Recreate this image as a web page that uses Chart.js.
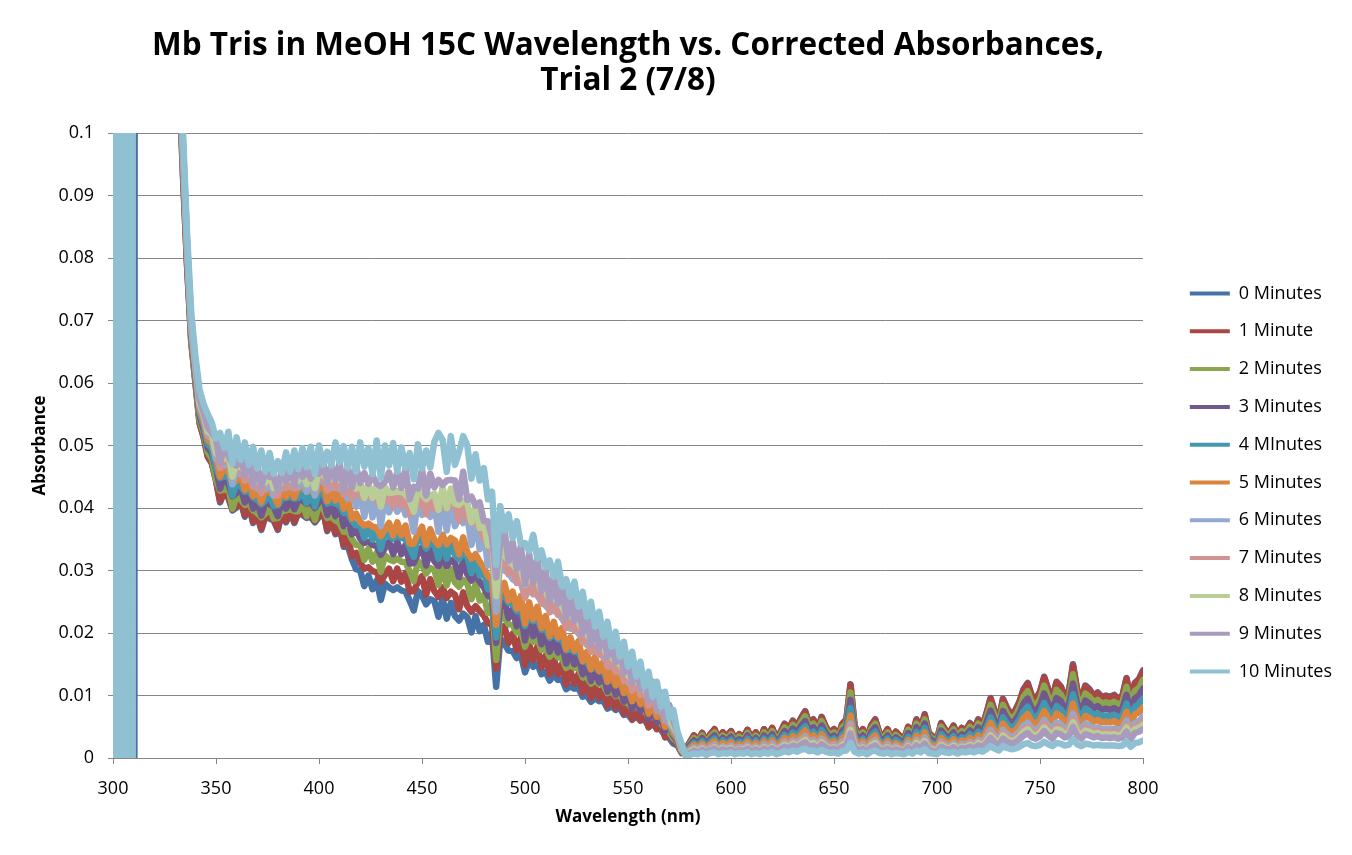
<!DOCTYPE html>
<html>
<head>
<meta charset="utf-8">
<title>Mb Tris in MeOH 15C - Trial 2</title>
<script src="https://cdn.jsdelivr.net/npm/chart.js@4.4.1/dist/chart.umd.min.js"></script>
<style>
  html, body { margin: 0; padding: 0; background: #fff; }
  #wrap { width: 1352px; height: 855px; }
</style>
</head>
<body>
<div id="wrap"><canvas id="chart" width="1352" height="855"></canvas></div>
<script>
// wavelength (nm)
const wavelengths = [
  300,301,302,303,304,305,306,307,308,309,310,311,312,316,320,324,328,332,
  334,336,338,340,342,344,346,348,350,352,354,356,358,360,362,364,366,368,370,372,
  374,376,378,380,382,384,386,388,390,392,394,396,398,400,402,404,406,408,410,412,
  414,416,418,420,422,424,426,428,430,432,434,436,438,440,442,444,446,448,450,452,
  454,456,458,460,462,464,466,468,470,472,474,476,478,480,482,484,486,488,490,492,
  494,496,498,500,502,504,506,508,510,512,514,516,518,520,522,524,526,528,530,532,
  534,536,538,540,542,544,546,548,550,552,554,556,558,560,562,564,566,568,570,572,
  574,576,578,580,582,584,586,588,590,592,594,596,598,600,602,604,606,608,610,612,
  614,616,618,620,622,624,626,628,630,632,634,636,638,640,642,644,646,648,650,652,
  654,656,658,660,662,664,666,668,670,672,674,676,678,680,682,684,686,688,690,692,
  694,696,698,700,702,704,706,708,710,712,714,716,718,720,722,724,726,728,730,732,
  734,736,738,740,742,744,746,748,750,752,754,756,758,760,762,764,766,768,770,772,
  774,776,778,780,782,784,786,788,790,792,794,796,798,800
];

// corrected absorbance per series
const min0 = [
  .5,-.3,.5,-.3,.5,-.3,.5,-.3,.5,-.3,-.3,.5,.45,.35,.25,.18,.14,.11,
  .0930,.0785,.0665,.0601,.0536,.0513,.0482,.0471,.0443,.0409,.0426,.0416,.0396,.0401,.0411,.0386,.0404,.0376,.0388,.0365,
  .0387,.0383,.0380,.0365,.0392,.0377,.0395,.0376,.0392,.0389,.0384,.0386,.0377,.0386,.0396,.0363,.0380,.0358,.0369,.0338,
  .0339,.0318,.0302,.0300,.0275,.0292,.0270,.0284,.0253,.0279,.0273,.0269,.0273,.0268,.0266,.0252,.0236,.0267,.0260,.0246,
  .0254,.0251,.0226,.0256,.0223,.0248,.0227,.0220,.0231,.0225,.0201,.0227,.0203,.0213,.0186,.0200,.0114,.0191,.0183,.0172,
  .0171,.0160,.0165,.0137,.0156,.0146,.0151,.0134,.0138,.0124,.0133,.0125,.0126,.0110,.0115,.0111,.0112,.0098,.0100,.0090,
  .0096,.0091,.0092,.0079,.0083,.0077,.0081,.0069,.0070,.0061,.0067,.0060,.0062,.0050,.0054,.0048,.0045,.0036,.0032,.0023,
  .0020,.0008,
  .0014,.0025,.0036,.0028,.0040,.0027,.0038,.0046,.0030,.0041,.0034,.0043,.0030,.0038,.0033,.0045,.0030,.0041,.0028,.0046,
  .0035,.0048,.0032,.0041,.0055,.0045,.0060,.0050,.0064,.0075,.0055,.0062,.0045,.0066,.0050,.0040,.0046,.0035,.0055,.0062,
  .0118,.0052,.0036,.0046,.0030,.0052,.0062,.0040,.0035,.0046,.0030,.0042,.0035,.0030,.0050,.0035,.0062,.0045,.0070,.0040,
  .0034,.0030,.0056,.0045,.0040,.0052,.0036,.0048,.0044,.0056,.0045,.0062,.0050,.0072,.0096,.0075,.0060,.0095,.0080,.0070,
  .0076,.0090,.0110,.0120,.0100,.0095,.0106,.0130,.0110,.0095,.0122,.0115,.0100,.0106,.0150,.0110,.0095,.0116,.0110,.0100,
  .0105,.0098,.0100,.0098,.0101,.0095,.0100,.0128,.0090,.0120,.0126,.0140
];
const min1 = [
  .5,-.3,.5,-.3,.5,-.3,.5,-.3,.5,-.3,.5,.5,.45,.35,.25,.18,.14,.11,
  .0931,.0786,.0666,.0602,.0537,.0514,.0483,.0472,.0445,.0411,.0428,.0418,.0398,.0403,.0413,.0388,.0406,.0378,.0390,.0367,
  .0389,.0385,.0382,.0367,.0394,.0379,.0397,.0378,.0394,.0391,.0386,.0388,.0379,.0388,.0398,.0365,.0382,.0360,.0372,.0341,
  .0354,.0323,.0328,.0312,.0303,.0305,.0299,.0297,.0282,.0293,.0303,.0283,.0303,.0282,.0296,.0266,.0267,.0282,.0291,.0261,
  .0286,.0267,.0258,.0273,.0256,.0266,.0261,.0238,.0265,.0243,.0234,.0243,.0235,.0228,.0216,.0213,.0143,.0203,.0211,.0184,
  .0199,.0172,.0193,.0149,.0183,.0157,.0178,.0145,.0164,.0134,.0159,.0134,.0151,.0118,.0139,.0119,.0135,.0105,.0122,.0096,
  .0117,.0096,.0112,.0083,.0102,.0080,.0099,.0071,.0087,.0062,.0083,.0060,.0077,.0049,.0068,.0046,.0058,.0033,.0045,.0027,
  .0023,.0009,
  .0014,.0025,.0036,.0028,.0040,.0027,.0038,.0046,.0030,.0041,.0034,.0043,.0030,.0038,.0033,.0045,.0030,.0041,.0028,.0046,
  .0035,.0048,.0032,.0041,.0054,.0045,.0059,.0050,.0063,.0074,.0054,.0061,.0045,.0065,.0050,.0040,.0046,.0035,.0054,.0061,
  .0117,.0051,.0036,.0046,.0030,.0051,.0061,.0040,.0035,.0046,.0030,.0042,.0035,.0030,.0050,.0035,.0061,.0045,.0069,.0040,
  .0034,.0030,.0055,.0045,.0040,.0051,.0036,.0048,.0044,.0055,.0045,.0061,.0050,.0071,.0095,.0074,.0059,.0094,.0079,.0069,
  .0075,.0089,.0109,.0119,.0099,.0094,.0105,.0129,.0109,.0094,.0121,.0114,.0099,.0105,.0148,.0109,.0094,.0115,.0109,.0099,
  .0104,.0097,.0099,.0097,.0100,.0094,.0099,.0127,.0089,.0119,.0125,.0139
];
const min2 = [
  .5,-.3,.5,-.3,.5,-.3,.5,-.3,.5,-.3,.5,.5,.45,.35,.25,.18,.14,.11,
  .0938,.0791,.0670,.0606,.0542,.0520,.0489,.0479,.0445,.0428,.0429,.0435,.0399,.0420,.0414,.0405,.0407,.0396,.0392,.0385,
  .0391,.0402,.0383,.0384,.0395,.0396,.0398,.0395,.0395,.0408,.0387,.0406,.0381,.0406,.0400,.0384,.0386,.0380,.0376,.0362,
  .0363,.0350,.0341,.0341,.0317,.0335,.0314,.0328,.0298,.0324,.0318,.0315,.0319,.0314,.0313,.0299,.0283,.0315,.0309,.0295,
  .0304,.0301,.0277,.0308,.0276,.0302,.0281,.0274,.0285,.0279,.0254,.0278,.0252,.0261,.0232,.0245,.0157,.0234,.0225,.0214,
  .0213,.0201,.0206,.0178,.0197,.0186,.0191,.0173,.0176,.0162,.0170,.0161,.0161,.0144,.0149,.0144,.0144,.0129,.0130,.0119,
  .0124,.0118,.0118,.0104,.0107,.0099,.0102,.0089,.0089,.0079,.0084,.0076,.0077,.0064,.0067,.0060,.0056,.0047,.0042,.0031,
  .0026,.0010,
  .0012,.0022,.0032,.0025,.0036,.0024,.0034,.0041,.0027,.0036,.0030,.0038,.0027,.0034,.0029,.0040,.0027,.0036,.0025,.0041,
  .0031,.0043,.0028,.0036,.0049,.0040,.0053,.0045,.0057,.0067,.0049,.0055,.0040,.0059,.0045,.0036,.0041,.0031,.0049,.0055,
  .0105,.0046,.0032,.0041,.0027,.0046,.0055,.0036,.0031,.0041,.0027,.0037,.0031,.0027,.0045,.0031,.0055,.0040,.0062,.0036,
  .0030,.0027,.0050,.0040,.0036,.0046,.0032,.0043,.0039,.0050,.0040,.0055,.0045,.0064,.0085,.0067,.0053,.0085,.0071,.0062,
  .0068,.0080,.0098,.0107,.0089,.0085,.0094,.0116,.0098,.0085,.0109,.0102,.0089,.0094,.0134,.0098,.0085,.0103,.0098,.0089,
  .0093,.0087,.0089,.0087,.0090,.0085,.0089,.0114,.0080,.0107,.0112,.0125
];
const min3 = [
  .5,-.3,.5,-.3,.5,-.3,.5,-.3,.5,-.3,.5,.5,.45,.35,.25,.18,.14,.11,
  .0947,.0797,.0675,.0612,.0548,.0526,.0496,.0488,.0463,.0431,.0449,.0439,.0419,.0424,.0434,.0409,.0427,.0399,.0411,.0388,
  .0410,.0406,.0402,.0387,.0414,.0399,.0417,.0398,.0414,.0412,.0407,.0409,.0400,.0410,.0420,.0389,.0407,.0387,.0400,.0371,
  .0387,.0358,.0365,.0351,.0344,.0346,.0341,.0339,.0325,.0336,.0346,.0326,.0346,.0326,.0341,.0311,.0312,.0327,.0337,.0308,
  .0333,.0315,.0307,.0322,.0307,.0317,.0312,.0289,.0316,.0294,.0284,.0292,.0282,.0273,.0260,.0256,.0184,.0244,.0252,.0224,
  .0238,.0211,.0232,.0188,.0222,.0195,.0216,.0182,.0201,.0170,.0194,.0169,.0184,.0151,.0171,.0150,.0166,.0134,.0151,.0123,
  .0144,.0121,.0137,.0106,.0125,.0101,.0120,.0090,.0106,.0079,.0100,.0075,.0092,.0062,.0081,.0057,.0069,.0043,.0054,.0035,
  .0028,.0011,
  .0011,.0020,.0028,.0022,.0032,.0021,.0030,.0036,.0024,.0032,.0027,.0034,.0024,.0030,.0026,.0036,.0024,.0032,.0022,.0036,
  .0028,.0038,.0025,.0032,.0043,.0036,.0047,.0040,.0051,.0059,.0043,.0049,.0036,.0052,.0040,.0032,.0036,.0028,.0043,.0049,
  .0093,.0041,.0028,.0036,.0024,.0041,.0049,.0032,.0028,.0036,.0024,.0033,.0028,.0024,.0040,.0028,.0049,.0036,.0055,.0032,
  .0027,.0024,.0044,.0036,.0032,.0041,.0028,.0038,.0035,.0044,.0036,.0049,.0040,.0057,.0076,.0059,.0047,.0075,.0063,.0055,
  .0060,.0071,.0087,.0095,.0079,.0075,.0084,.0103,.0087,.0075,.0096,.0091,.0079,.0084,.0119,.0087,.0075,.0092,.0087,.0079,
  .0083,.0077,.0079,.0077,.0080,.0075,.0079,.0101,.0071,.0095,.0100,.0111
];
const min4 = [
  .5,-.3,.5,-.3,.5,-.3,.5,-.3,.5,-.3,.5,.5,.45,.35,.25,.18,.14,.11,
  .0954,.0802,.0679,.0616,.0552,.0532,.0502,.0495,.0463,.0448,.0450,.0456,.0420,.0441,.0435,.0426,.0428,.0417,.0413,.0406,
  .0412,.0423,.0403,.0404,.0415,.0416,.0418,.0415,.0416,.0429,.0408,.0427,.0402,.0428,.0423,.0407,.0410,.0407,.0405,.0392,
  .0392,.0379,.0372,.0374,.0352,.0370,.0349,.0364,.0334,.0361,.0355,.0351,.0356,.0352,.0350,.0337,.0322,.0354,.0348,.0335,
  .0344,.0342,.0319,.0350,.0319,.0345,.0325,.0318,.0329,.0322,.0296,.0319,.0292,.0300,.0270,.0281,.0193,.0269,.0260,.0248,
  .0246,.0235,.0239,.0211,.0229,.0219,.0223,.0205,.0208,.0192,.0200,.0190,.0190,.0172,.0176,.0170,.0170,.0154,.0154,.0142,
  .0146,.0139,.0138,.0123,.0126,.0118,.0120,.0106,.0105,.0094,.0098,.0089,.0089,.0075,.0078,.0070,.0066,.0055,.0050,.0038,
  .0030,.0012,
  .0010,.0017,.0024,.0019,.0027,.0018,.0026,.0031,.0020,.0028,.0023,.0029,.0020,.0026,.0022,.0031,.0020,.0028,.0019,.0031,
  .0024,.0033,.0022,.0028,.0037,.0031,.0041,.0034,.0044,.0051,.0037,.0042,.0031,.0045,.0034,.0027,.0031,.0024,.0037,.0042,
  .0080,.0035,.0024,.0031,.0020,.0035,.0042,.0027,.0024,.0031,.0020,.0029,.0024,.0020,.0034,.0024,.0042,.0031,.0048,.0027,
  .0023,.0020,.0038,.0031,.0027,.0035,.0024,.0033,.0030,.0038,.0031,.0042,.0034,.0049,.0065,.0051,.0041,.0065,.0054,.0048,
  .0052,.0061,.0075,.0082,.0068,.0065,.0072,.0088,.0075,.0065,.0083,.0078,.0068,.0072,.0102,.0075,.0065,.0079,.0075,.0068,
  .0071,.0067,.0068,.0067,.0069,.0065,.0068,.0087,.0061,.0082,.0086,.0095
];
const min5 = [
  .5,-.3,.5,-.3,.5,-.3,.5,-.3,.5,-.3,.5,.5,.45,.35,.25,.18,.14,.11,
  .0962,.0808,.0684,.0621,.0558,.0538,.0509,.0503,.0480,.0450,.0468,.0458,.0439,.0444,.0454,.0429,.0447,.0419,.0432,.0409,
  .0430,.0425,.0421,.0406,.0433,.0418,.0436,.0417,.0434,.0432,.0427,.0429,.0421,.0431,.0442,.0411,.0431,.0412,.0427,.0399,
  .0414,.0383,.0391,.0378,.0372,.0375,.0370,.0369,.0355,.0366,.0376,.0356,.0377,.0357,.0372,.0343,.0343,.0359,.0370,.0341,
  .0366,.0349,.0341,.0357,.0342,.0352,.0348,.0326,.0353,.0329,.0319,.0326,.0314,.0305,.0291,.0285,.0213,.0273,.0280,.0252,
  .0266,.0239,.0259,.0215,.0249,.0222,.0242,.0208,.0227,.0195,.0218,.0193,.0208,.0174,.0193,.0172,.0187,.0155,.0170,.0142,
  .0162,.0139,.0154,.0122,.0140,.0116,.0134,.0104,.0118,.0091,.0111,.0086,.0102,.0071,.0089,.0066,.0077,.0050,.0061,.0040,
  .0032,.0012,
  .0008,.0015,.0021,.0016,.0023,.0016,.0022,.0027,.0017,.0024,.0020,.0025,.0017,.0022,.0019,.0026,.0017,.0024,.0016,.0027,
  .0020,.0028,.0019,.0024,.0032,.0026,.0035,.0029,.0037,.0044,.0032,.0036,.0026,.0038,.0029,.0023,.0027,.0020,.0032,.0036,
  .0068,.0030,.0021,.0027,.0017,.0030,.0036,.0023,.0020,.0027,.0017,.0024,.0020,.0017,.0029,.0020,.0036,.0026,.0041,.0023,
  .0020,.0017,.0032,.0026,.0023,.0030,.0021,.0028,.0026,.0032,.0026,.0036,.0029,.0042,.0056,.0044,.0035,.0055,.0046,.0041,
  .0044,.0052,.0064,.0070,.0058,.0055,.0061,.0075,.0064,.0055,.0071,.0067,.0058,.0061,.0087,.0064,.0055,.0067,.0064,.0058,
  .0061,.0057,.0058,.0057,.0059,.0055,.0058,.0074,.0052,.0070,.0073,.0081
];
const min6 = [
  .5,-.3,.5,-.3,.5,-.3,.5,-.3,.5,-.3,.5,.5,.45,.35,.25,.18,.14,.11,
  .0970,.0814,.0689,.0627,.0563,.0544,.0516,.0511,.0478,.0473,.0468,.0482,.0438,.0467,.0453,.0452,.0446,.0443,.0431,.0432,
  .0430,.0449,.0420,.0428,.0431,.0440,.0434,.0440,.0433,.0455,.0426,.0453,.0420,.0454,.0442,.0436,.0432,.0438,.0430,.0428,
  .0415,.0426,.0402,.0428,.0386,.0426,.0385,.0421,.0371,.0418,.0393,.0409,.0394,.0410,.0389,.0396,.0362,.0414,.0389,.0396,
  .0386,.0405,.0362,.0415,.0364,.0411,.0371,.0385,.0376,.0388,.0341,.0383,.0334,.0360,.0308,.0331,.0234,.0317,.0300,.0296,
  .0286,.0282,.0279,.0258,.0268,.0265,.0260,.0250,.0244,.0236,.0235,.0232,.0223,.0212,.0207,.0209,.0199,.0190,.0181,.0176,
  .0171,.0171,.0161,.0153,.0146,.0145,.0138,.0131,.0121,.0117,.0112,.0110,.0101,.0094,.0087,.0087,.0073,.0071,.0056,.0046,
  .0036,.0014,
  .0007,.0012,.0017,.0013,.0019,.0013,.0018,.0022,.0014,.0019,.0016,.0020,.0014,.0018,.0016,.0021,.0014,.0019,.0013,.0022,
  .0016,.0023,.0015,.0019,.0026,.0021,.0028,.0024,.0030,.0035,.0026,.0029,.0021,.0031,.0024,.0019,.0022,.0016,.0026,.0029,
  .0055,.0024,.0017,.0022,.0014,.0024,.0029,.0019,.0016,.0022,.0014,.0020,.0016,.0014,.0024,.0016,.0029,.0021,.0033,.0019,
  .0016,.0014,.0026,.0021,.0019,.0024,.0017,.0023,.0021,.0026,.0021,.0029,.0024,.0034,.0045,.0035,.0028,.0045,.0038,.0033,
  .0036,.0042,.0052,.0056,.0047,.0045,.0050,.0061,.0052,.0045,.0057,.0054,.0047,.0050,.0071,.0052,.0045,.0055,.0052,.0047,
  .0049,.0046,.0047,.0046,.0047,.0045,.0047,.0060,.0042,.0056,.0059,.0066
];
const min7 = [
  .5,-.3,.5,-.3,.5,-.3,.5,-.3,.5,-.3,.5,.5,.45,.35,.25,.18,.14,.11,
  .0974,.0817,.0691,.0629,.0566,.0548,.0520,.0515,.0497,.0464,.0487,.0473,.0458,.0459,.0473,.0444,.0466,.0434,.0451,.0424,
  .0449,.0440,.0440,.0420,.0451,.0432,.0454,.0431,.0453,.0447,.0446,.0444,.0440,.0446,.0462,.0428,.0453,.0432,.0452,.0422,
  .0444,.0416,.0433,.0419,.0418,.0418,.0418,.0413,.0404,.0411,.0426,.0402,.0427,.0403,.0423,.0390,.0395,.0407,.0422,.0390,
  .0420,.0399,.0397,.0410,.0399,.0406,.0407,.0380,.0411,.0383,.0376,.0377,.0368,.0353,.0341,.0330,.0261,.0316,.0326,.0294,
  .0312,.0280,.0304,.0256,.0293,.0262,.0286,.0247,.0269,.0233,.0259,.0229,.0247,.0208,.0231,.0204,.0222,.0185,.0204,.0170,
  .0193,.0165,.0183,.0146,.0167,.0138,.0158,.0123,.0141,.0108,.0131,.0101,.0120,.0084,.0105,.0076,.0091,.0060,.0073,.0049,
  .0038,.0015,
  .0006,.0011,.0015,.0012,.0017,.0011,.0016,.0019,.0013,.0017,.0014,.0018,.0013,.0016,.0014,.0019,.0013,.0017,.0012,.0019,
  .0015,.0020,.0013,.0017,.0023,.0019,.0025,.0021,.0027,.0032,.0023,.0026,.0019,.0028,.0021,.0017,.0019,.0015,.0023,.0026,
  .0050,.0022,.0015,.0019,.0013,.0022,.0026,.0017,.0015,.0019,.0013,.0018,.0015,.0013,.0021,.0015,.0026,.0019,.0029,.0017,
  .0014,.0013,.0024,.0019,.0017,.0022,.0015,.0020,.0018,.0024,.0019,.0026,.0021,.0030,.0040,.0032,.0025,.0040,.0034,.0029,
  .0032,.0038,.0046,.0050,.0042,.0040,.0045,.0055,.0046,.0040,.0051,.0048,.0042,.0045,.0063,.0046,.0040,.0049,.0046,.0042,
  .0044,.0041,.0042,.0041,.0042,.0040,.0042,.0054,.0038,.0050,.0053,.0059
];
const min8 = [
  .5,-.3,.5,-.3,.5,-.3,.5,-.3,.5,-.3,.5,.5,.45,.35,.25,.18,.14,.11,
  .0977,.0819,.0693,.0631,.0568,.0550,.0522,.0518,.0488,.0480,.0479,.0489,.0450,.0475,.0465,.0460,.0458,.0450,.0443,.0440,
  .0441,.0456,.0432,.0435,.0442,.0447,.0445,.0447,.0444,.0463,.0438,.0460,.0432,.0462,.0454,.0445,.0446,.0448,.0445,.0439,
  .0439,.0436,.0431,.0441,.0416,.0440,.0416,.0436,.0402,.0434,.0424,.0425,.0426,.0426,.0422,.0413,.0394,.0431,.0422,.0414,
  .0420,.0423,.0397,.0434,.0400,.0431,.0407,.0405,.0412,.0408,.0377,.0402,.0368,.0377,.0340,.0353,.0259,.0338,.0324,.0316,
  .0310,.0302,.0302,.0277,.0291,.0284,.0283,.0268,.0266,.0254,.0256,.0249,.0243,.0228,.0227,.0224,.0218,.0204,.0199,.0189,
  .0188,.0183,.0177,.0164,.0161,.0155,.0151,.0140,.0133,.0125,.0123,.0117,.0111,.0100,.0096,.0091,.0081,.0074,.0063,.0051,
  .0039,.0015,
  .0005,.0010,.0014,.0011,.0015,.0010,.0014,.0017,.0011,.0016,.0013,.0016,.0011,.0014,.0013,.0017,.0011,.0016,.0011,.0017,
  .0013,.0018,.0012,.0016,.0021,.0017,.0023,.0019,.0024,.0029,.0021,.0024,.0017,.0025,.0019,.0015,.0017,.0013,.0021,.0024,
  .0045,.0020,.0014,.0017,.0011,.0020,.0024,.0015,.0013,.0017,.0011,.0016,.0013,.0011,.0019,.0013,.0024,.0017,.0027,.0015,
  .0013,.0011,.0021,.0017,.0015,.0020,.0014,.0018,.0017,.0021,.0017,.0024,.0019,.0027,.0036,.0029,.0023,.0036,.0030,.0027,
  .0029,.0034,.0042,.0046,.0038,.0036,.0040,.0049,.0042,.0036,.0046,.0044,.0038,.0040,.0057,.0042,.0036,.0044,.0042,.0038,
  .0040,.0037,.0038,.0037,.0038,.0036,.0038,.0049,.0034,.0046,.0048,.0053
];
const min9 = [
  .5,-.3,.5,-.3,.5,-.3,.5,-.3,.5,-.3,.5,.5,.45,.35,.25,.18,.14,.11,
  .0982,.0822,.0698,.0633,.0574,.0553,.0529,.0521,.0511,.0472,.0499,.0484,.0471,.0468,.0483,.0453,.0485,.0438,.0468,.0435,
  .0461,.0450,.0450,.0429,.0463,.0442,.0465,.0439,.0472,.0450,.0463,.0447,.0460,.0455,.0474,.0441,.0468,.0445,.0473,.0429,
  .0467,.0433,.0466,.0440,.0456,.0439,.0452,.0439,.0435,.0442,.0457,.0433,.0458,.0432,.0463,.0414,.0434,.0431,.0462,.0420,
  .0455,.0433,.0445,.0437,.0444,.0445,.0444,.0414,.0458,.0413,.0418,.0404,.0409,.0379,.0379,.0353,.0289,.0344,.0366,.0315,
  .0346,.0302,.0340,.0278,.0327,.0281,.0321,.0267,.0301,.0251,.0292,.0247,.0277,.0224,.0262,.0219,.0251,.0200,.0232,.0183,
  .0219,.0175,.0206,.0162,.0184,.0153,.0175,.0136,.0155,.0121,.0146,.0111,.0131,.0092,.0122,.0077,.0105,.0061,.0085,.0059,
  .0040,.0018,
  .0005,.0008,.0012,.0009,.0013,.0009,.0013,.0015,.0010,.0014,.0011,.0014,.0010,.0013,.0011,.0015,.0010,.0014,.0009,.0015,
  .0012,.0016,.0011,.0014,.0018,.0015,.0020,.0017,.0021,.0025,.0018,.0020,.0015,.0022,.0017,.0013,.0015,.0012,.0018,.0020,
  .0039,.0017,.0012,.0015,.0010,.0017,.0020,.0013,.0012,.0015,.0010,.0014,.0012,.0010,.0017,.0012,.0020,.0015,.0023,.0013,
  .0011,.0010,.0018,.0015,.0013,.0017,.0012,.0016,.0015,.0018,.0015,.0020,.0017,.0024,.0032,.0025,.0020,.0031,.0026,.0023,
  .0025,.0030,.0036,.0040,.0033,.0031,.0035,.0043,.0036,.0031,.0040,.0038,.0033,.0035,.0050,.0036,.0031,.0038,.0036,.0033,
  .0035,.0032,.0033,.0032,.0033,.0031,.0033,.0042,.0030,.0040,.0042,.0046
];
const min10 = [
  .5,-.3,.5,-.3,.5,-.3,.5,-.3,.5,-.3,.5,.5,.45,.35,.25,.18,.14,.11,
  .1000,.0835,.0712,.0643,.0590,.0566,.0550,.0536,.0511,.0520,.0496,.0522,.0471,.0513,.0477,.0505,.0469,.0498,.0463,.0492,
  .0458,.0488,.0455,.0475,.0456,.0489,.0458,.0492,.0462,.0496,.0465,.0498,.0454,.0500,.0469,.0490,.0468,.0505,.0473,.0499,
  .0464,.0498,.0458,.0505,.0466,.0496,.0454,.0508,.0448,.0500,.0468,.0504,.0458,.0497,.0464,.0488,.0446,.0502,.0463,.0492,
  .0465,.0506,.0520,.0509,.0458,.0515,.0469,.0490,.0515,.0500,.0447,.0486,.0444,.0464,.0414,.0426,.0309,.0403,.0364,.0390,
  .0352,.0379,.0342,.0344,.0331,.0357,.0319,.0332,.0305,.0316,.0290,.0314,.0274,.0286,.0258,.0282,.0242,.0266,.0226,.0250,
  .0210,.0234,.0194,.0218,.0178,.0202,.0162,.0186,.0146,.0170,.0130,.0154,.0114,.0138,.0098,.0122,.0082,.0106,.0064,.0077,
  .0042,.0023,
  .0003,.0005,.0007,.0006,.0008,.0005,.0008,.0009,.0006,.0008,.0007,.0009,.0006,.0008,.0007,.0009,.0006,.0008,.0006,.0009,
  .0007,.0010,.0006,.0008,.0011,.0009,.0012,.0010,.0013,.0015,.0011,.0012,.0009,.0013,.0010,.0008,.0009,.0007,.0011,.0012,
  .0024,.0010,.0007,.0009,.0006,.0010,.0012,.0008,.0007,.0009,.0006,.0008,.0007,.0006,.0010,.0007,.0012,.0009,.0014,.0008,
  .0007,.0006,.0011,.0009,.0008,.0010,.0007,.0010,.0009,.0011,.0009,.0012,.0010,.0014,.0019,.0015,.0012,.0019,.0016,.0014,
  .0015,.0018,.0022,.0024,.0020,.0019,.0021,.0026,.0022,.0019,.0024,.0023,.0020,.0021,.0030,.0022,.0019,.0023,.0022,.0020,
  .0021,.0020,.0020,.0020,.0020,.0019,.0020,.0026,.0018,.0024,.0025,.0028
];

const seriesNames = ['0 Minutes', '1 Minute', '2 Minutes', '3 Minutes', '4 MInutes', '5 Minutes',
                     '6 Minutes', '7 Minutes', '8 Minutes', '9 Minutes', '10 Minutes'];
const seriesValues = [min0, min1, min2, min3, min4, min5, min6, min7, min8, min9, min10];
const seriesColors = ['#4572A7', '#AA4643', '#89A54E', '#71588F', '#4198AF', '#DB843D',
                      '#93A9CF', '#D19392', '#B9CD96', '#A99BBD', '#8FC1D3'];
const yTicks = [0, 0.01, 0.02, 0.03, 0.04, 0.05, 0.06, 0.07, 0.08, 0.09, 0.1];

Chart.defaults.font.family = "'Open Sans', 'Liberation Sans', sans-serif";
Chart.defaults.color = '#000';

const axisGrey = '#868686';

// Excel draws later series on top, so reverse the draw order
const datasets = seriesValues.map((vals, i) => ({
    label: seriesNames[i],
    data: wavelengths.map((w, j) => ({ x: w, y: vals[j] })),
    borderColor: seriesColors[i],
    backgroundColor: seriesColors[i],
    borderWidth: 6.5,
    borderJoinStyle: 'round',
    borderCapStyle: 'round',
    pointRadius: 0,
    tension: 0,
    clip: 0,
    yAxisID: 'y',
    order: seriesValues.length - 1 - i
}));

new Chart(document.getElementById('chart'), {
    type: 'line',
    data: { datasets },
    options: {
        responsive: false,
        animation: false,
        devicePixelRatio: 1,
        layout: { padding: { top: 0, right: 10, bottom: 0, left: 0 } },
        scales: {
            x: {
                type: 'linear',
                min: 300,
                max: 800,
                ticks: { stepSize: 50, padding: 14, font: { size: 18 }, maxRotation: 0 },
                grid: { drawOnChartArea: false, color: axisGrey, tickLength: 6 },
                border: { color: axisGrey },
                title: {
                    display: true,
                    text: 'Wavelength (nm)',
                    font: { size: 17, weight: 'bold' },
                    padding: { top: 0, bottom: 28 }
                },
                afterFit: (scale) => { scale.height = 97; }
            },
            y: {
                type: 'linear',
                min: 0,
                max: 0.1,
                afterBuildTicks: (scale) => { scale.ticks = yTicks.map(v => ({ value: v })); },
                ticks: {
                    padding: 14,
                    font: { size: 18 },
                    callback: (v) => String(Number(v.toFixed(2)))
                },
                grid: { color: axisGrey, tickLength: 5 },
                border: { color: axisGrey },
                title: {
                    display: true,
                    text: 'Absorbance',
                    font: { size: 17, weight: 'bold' },
                    padding: { top: 30, bottom: 0 }
                },
                afterFit: (scale) => { scale.width = 113; }
            },
            // empty spacer between the plot and the legend
            yGap: {
                position: 'right',
                display: true,
                ticks: { display: false },
                grid: { display: false },
                border: { display: false },
                afterFit: (scale) => { scale.width = 27; }
            }
        },
        plugins: {
            title: {
                display: true,
                text: ['Mb Tris in MeOH 15C Wavelength vs. Corrected Absorbances,', 'Trial 2 (7/8)'],
                font: { size: 31.5, weight: 'bold', lineHeight: 35 / 31.5 },
                color: '#000',
                fullSize: false,
                padding: { top: 29, bottom: 34 }
            },
            legend: {
                position: 'right',
                align: 'center',
                fullSize: false,
                title: { display: true, text: '', font: { size: 10 }, padding: { top: 62, bottom: 0 } },
                labels: {
                    usePointStyle: true,
                    pointStyle: 'line',
                    pointStyleWidth: 40,
                    padding: 19.8,
                    font: { size: 18 },
                    color: '#000',
                    // legend swatches are thinner than the plotted lines
                    generateLabels: (chart) => Chart.defaults.plugins.legend.labels.generateLabels(chart)
                        .map(item => Object.assign(item, { lineWidth: 4 })),
                    sort: (a, b) => a.datasetIndex - b.datasetIndex
                }
            },
            tooltip: { enabled: false }
        }
    }
});
</script>
</body>
</html>
